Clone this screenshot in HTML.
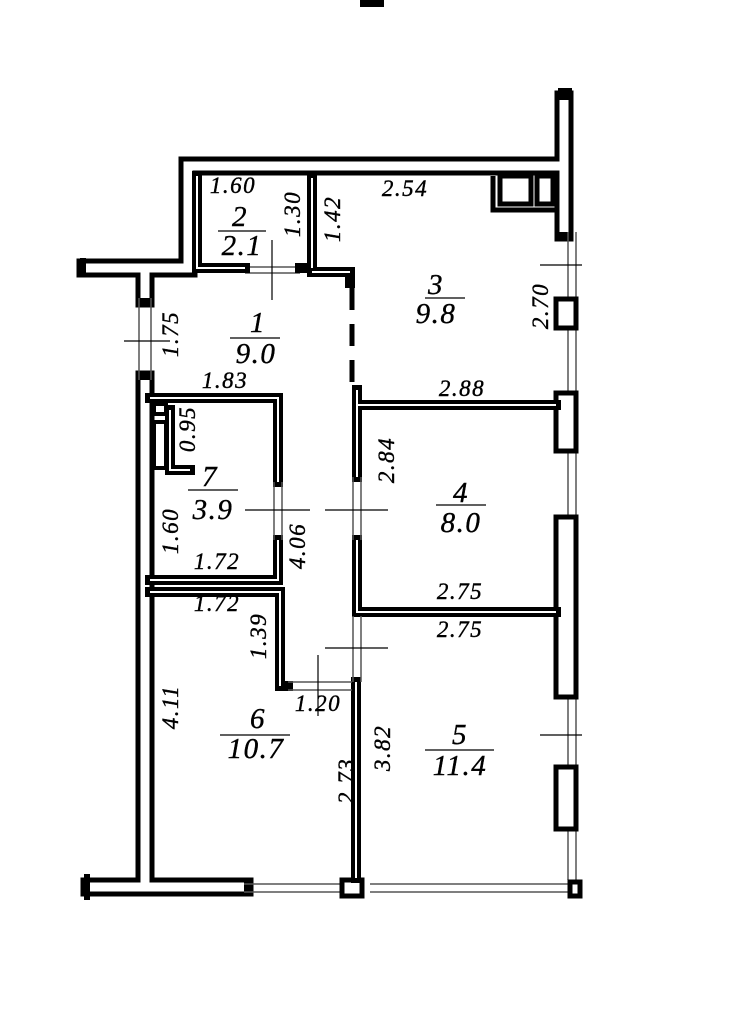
<!DOCTYPE html>
<html><head><meta charset="utf-8"><style>
html,body{margin:0;padding:0;background:#fff}
svg{display:block}
text{font-family:"Liberation Serif",serif;font-style:italic;fill:#000;text-anchor:middle;letter-spacing:1.5px;stroke:#000;stroke-width:0.4}
.d{font-size:23px}
.r{font-size:29px}
.e{fill:none;stroke:#000;stroke-width:19;stroke-linejoin:miter;stroke-linecap:square}
.ei{fill:none;stroke:#fff;stroke-width:9;stroke-linejoin:miter;stroke-linecap:butt}
.i{fill:none;stroke:#000;stroke-width:10;stroke-linecap:square}
.ii{fill:none;stroke:#fff;stroke-width:2;stroke-linecap:butt}
.t{stroke:#000;stroke-width:1.2;fill:none}
.w{stroke:#555;stroke-width:1.5;fill:none}
</style></head><body>
<svg width="745" height="1031" viewBox="0 0 745 1031" xmlns="http://www.w3.org/2000/svg">
<rect x="360" y="0" width="24" height="7" fill="#000"/>
<g>
<path class="e" d="M86 268 H188 V166 H564"/>
<path class="e" d="M564 100 V232"/>
<path class="e" d="M145 272 V298"/>
<path class="e" d="M145 380 V887 H90"/>
<path class="e" d="M145 887 H244"/>
<path class="ei" d="M86 268 H188 V166 H564"/>
<path class="ei" d="M564 100 V232"/>
<path class="ei" d="M145 272 V298"/>
<path class="ei" d="M145 380 V887 H90"/>
<path class="ei" d="M145 887 H244"/>
<rect x="80" y="258" width="6" height="18" fill="#000"/>
<rect x="84" y="874" width="6" height="26" fill="#000"/>
<rect x="558" y="88" width="14" height="8" fill="#000"/>
</g>
<g class="w">
<path d="M139 298 V380 M151 298 V380"/>
<path d="M568 232 V880 M576 232 V880"/>
<path d="M244 884 H340 M244 892 H340"/>
<path d="M370 884 H572 M370 892 H572"/>
<path d="M245 267 H300 M245 273 H300"/>
</g>
<g fill="#fff" stroke="#000" stroke-width="5">
<rect x="556" y="299" width="20" height="29"/>
<rect x="556" y="393" width="20" height="58"/>
<rect x="556" y="517" width="20" height="180"/>
<rect x="556" y="767" width="20" height="62"/>
<rect x="342" y="880" width="20" height="16"/>
<rect x="570" y="882" width="10" height="14"/>
</g>
<g fill="#fff" stroke="#000" stroke-width="5">
<path d="M493 176 V210 H555"/>
<rect x="500" y="176" width="31" height="28"/>
<rect x="537" y="176" width="16" height="28"/>
</g>
<g fill="#fff" stroke="#000" stroke-width="4">
<rect x="154" y="404" width="12" height="10"/>
<rect x="154" y="422" width="12" height="46"/>
</g>
<g>
<path class="i" d="M197 176 V268 H245"/>
<path class="i" d="M300 268 H312 V178"/>
<path class="i" d="M312 272 H350 V283"/>
<path class="i" d="M150 398 H278 V482"/>
<path class="i" d="M278 540 V580 H150"/>
<path class="i" d="M150 592 H280 V686 H288"/>
<path class="i" d="M356 682 V878"/>
<path class="i" d="M357 390 V477"/>
<path class="i" d="M357 540 V612 H556"/>
<path class="i" d="M357 405 H556"/>
<path class="i" d="M170 410 V470 H190"/>
<path class="ii" d="M197 176 V268 H245"/>
<path class="ii" d="M312 268 V178"/>
<path class="ii" d="M312 272 H350"/>
<path class="ii" d="M150 398 H278 V482"/>
<path class="ii" d="M278 540 V580 H150"/>
<path class="ii" d="M150 592 H280 V686"/>
<path class="ii" d="M356 682 V878"/>
<path class="ii" d="M357 390 V477"/>
<path class="ii" d="M357 540 V612 H556"/>
<path class="ii" d="M357 405 H556"/>
<path class="ii" d="M170 410 V470 H190"/>
</g>
<path d="M352 288 V388" stroke="#000" stroke-width="5" stroke-dasharray="22 14" fill="none"/>
<g class="w">
<path d="M274 482 V540 M282 482 V540"/>
<path d="M353 477 V540 M361 477 V540"/>
<path d="M353 616 V682 M361 616 V682"/>
<path d="M288 682 H352 M288 690 H352"/>
</g>
<g class="t">
<path d="M272 240 V300"/>
<path d="M540 265 H582"/>
<path d="M124 341 H170"/>
<path d="M245 510 H310 M325 510 H388"/>
<path d="M325 648 H388 M318 655 V716"/>
<path d="M540 735 H582"/>
<path d="M218 231 H266 M425 298 H465 M230 338 H280 M188 490 H238 M436 505 H486 M220 735 H290 M425 750 H494"/>
</g>
<g class="d">
<text x="233" y="193">1.60</text>
<text x="405" y="196">2.54</text>
<text x="225" y="388">1.83</text>
<text x="462" y="396">2.88</text>
<text x="217" y="569">1.72</text>
<text x="460" y="599">2.75</text>
<text x="217" y="611">1.72</text>
<text x="460" y="637">2.75</text>
<text x="318" y="711">1.20</text>
<text transform="translate(300,214) rotate(-90)">1.30</text>
<text transform="translate(340,219) rotate(-90)">1.42</text>
<text transform="translate(548,306) rotate(-90)">2.70</text>
<text transform="translate(178,334) rotate(-90)">1.75</text>
<text transform="translate(195,429) rotate(-90)">0.95</text>
<text transform="translate(394,460) rotate(-90)">2.84</text>
<text transform="translate(178,531) rotate(-90)">1.60</text>
<text transform="translate(305,546) rotate(-90)">4.06</text>
<text transform="translate(266,636) rotate(-90)">1.39</text>
<text transform="translate(178,707) rotate(-90)">4.11</text>
<text transform="translate(390,748) rotate(-90)">3.82</text>
<text transform="translate(354,781) rotate(-90)">2.73</text>
</g>
<g class="r">
<text x="240" y="226">2</text><text x="242" y="255">2.1</text>
<text x="436" y="294">3</text><text x="436" y="323">9.8</text>
<text x="258" y="332">1</text><text x="256" y="363">9.0</text>
<text x="210" y="486">7</text><text x="213" y="519">3.9</text>
<text x="461" y="502">4</text><text x="461" y="532">8.0</text>
<text x="258" y="728">6</text><text x="256" y="758">10.7</text>
<text x="460" y="744">5</text><text x="460" y="775">11.4</text>
</g>
</svg>
</body></html>
